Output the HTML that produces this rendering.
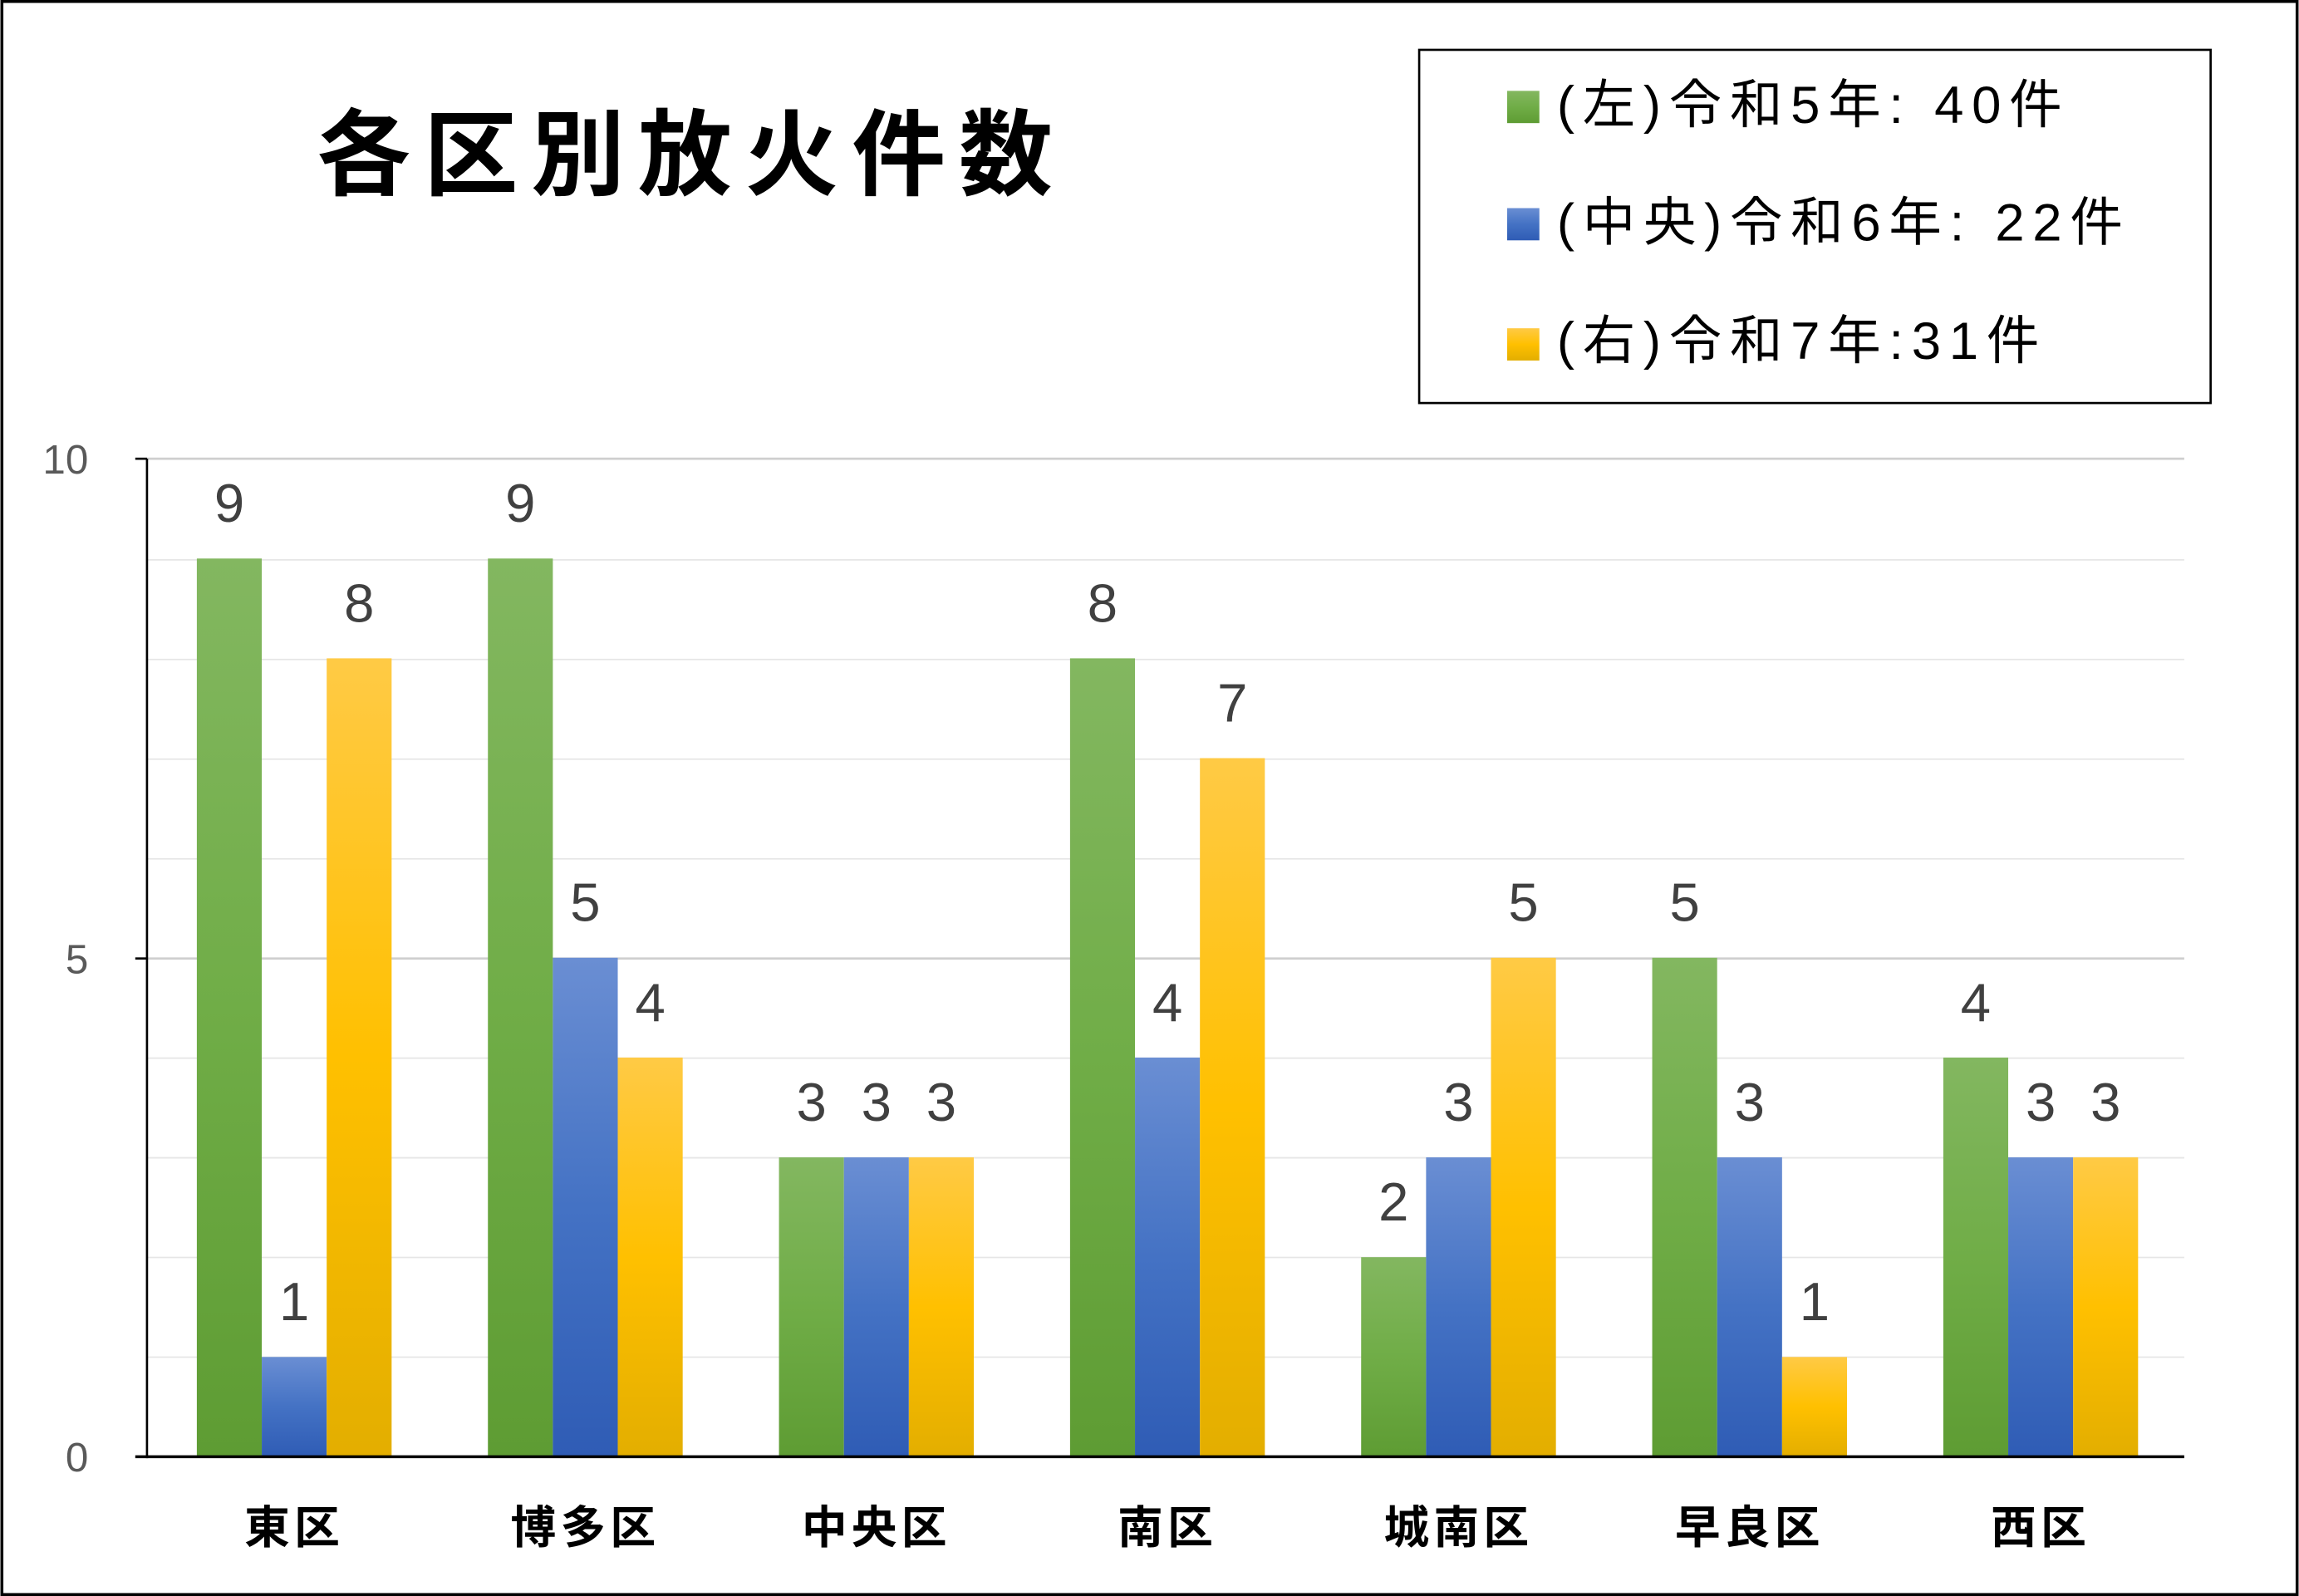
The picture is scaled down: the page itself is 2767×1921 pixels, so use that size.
<!DOCTYPE html>
<html><head><meta charset="utf-8"><style>
html,body{margin:0;padding:0;background:#fff}
svg{display:block}
text{font-family:"Liberation Sans","Noto Sans CJK JP",sans-serif}
</style></head><body>
<svg width="2767" height="1921" viewBox="0 0 1568 1089" xmlns="http://www.w3.org/2000/svg">
<defs>
<linearGradient id="g" x1="0" y1="0" x2="0" y2="1"><stop offset="0" stop-color="#83b760"/><stop offset="0.5" stop-color="#70ad47"/><stop offset="1" stop-color="#5e9c33"/></linearGradient>
<linearGradient id="b" x1="0" y1="0" x2="0" y2="1"><stop offset="0" stop-color="#6a8ed3"/><stop offset="0.5" stop-color="#4472c4"/><stop offset="1" stop-color="#2f5cb5"/></linearGradient>
<linearGradient id="y" x1="0" y1="0" x2="0" y2="1"><stop offset="0" stop-color="#ffca45"/><stop offset="0.5" stop-color="#ffc000"/><stop offset="1" stop-color="#e3ae00"/></linearGradient>
</defs>
<rect x="1" y="1" width="1566" height="1087" fill="#fff" stroke="#000" stroke-width="2"/>
<text x="216" y="128" font-size="64" font-weight="bold" fill="#000" letter-spacing="9">各区別放火件数</text>
<rect x="968" y="34" width="540" height="241" fill="#fff" stroke="#000" stroke-width="1.5"/>
<rect x="1028" y="62" width="22" height="22" fill="url(#g)"/>
<rect x="1028" y="142" width="22" height="22" fill="url(#b)"/>
<rect x="1028" y="224" width="22" height="22" fill="url(#y)"/>
<g font-size="36" fill="#000" letter-spacing="5.5">
<text x="1062" y="84">(左)令和5年: 40件</text>
<text x="1062" y="164">(中央)令和6年: 22件</text>
<text x="1062" y="245">(右)令和7年:31件</text>
</g>
<g stroke="#e6e6e6" stroke-width="1">
<line x1="100" x2="1490" y1="382" y2="382"/><line x1="100" x2="1490" y1="450" y2="450"/><line x1="100" x2="1490" y1="518" y2="518"/><line x1="100" x2="1490" y1="586" y2="586"/><line x1="100" x2="1490" y1="722" y2="722"/><line x1="100" x2="1490" y1="790" y2="790"/><line x1="100" x2="1490" y1="858" y2="858"/><line x1="100" x2="1490" y1="926" y2="926"/>
</g>
<g stroke="#cfcfcf" stroke-width="1.5">
<line x1="100" x2="1490" y1="313" y2="313"/><line x1="100" x2="1490" y1="654" y2="654"/>
</g>
<g id="bars"></g>
<g font-size="37" fill="#404040" text-anchor="middle" id="labs"></g>
<line x1="100" y1="313" x2="100" y2="995" stroke="#000" stroke-width="1.5"/>
<line x1="92" y1="994" x2="1490" y2="994" stroke="#000" stroke-width="2"/>
<g stroke="#000" stroke-width="1.5"><line x1="92" x2="100" y1="313" y2="313"/><line x1="92" x2="100" y1="654" y2="654"/></g>
<g font-size="28" fill="#595959" text-anchor="end">
<text x="60" y="323">10</text><text x="60" y="664">5</text><text x="60" y="1004">0</text>
</g>
<g font-size="31" font-weight="bold" fill="#000" text-anchor="middle" letter-spacing="3" id="cats"></g>
<script>
var d=[[9,1,8],[9,5,4],[3,3,3],[8,4,7],[2,3,5],[5,3,1],[4,3,3]];
var names=["東区","博多区","中央区","南区","城南区","早良区","西区"];
var fills=["url(#g)","url(#b)","url(#y)"];
var ns="http://www.w3.org/2000/svg",B=document.getElementById("bars"),L=document.getElementById("labs"),C=document.getElementById("cats");
var u=68.1,w=44.3;
for(var i=0;i<7;i++){var x0=134+i*198.6;
for(var k=0;k<3;k++){var v=d[i][k],x=x0+k*w,h=v*u;
var r=document.createElementNS(ns,"rect");r.setAttribute("x",x);r.setAttribute("y",994-h);r.setAttribute("width",w);r.setAttribute("height",h);r.setAttribute("fill",fills[k]);B.appendChild(r);
var t=document.createElementNS(ns,"text");t.setAttribute("x",x+w/2);t.setAttribute("y",994-h-25);t.textContent=v;L.appendChild(t);}
var c=document.createElementNS(ns,"text");c.setAttribute("x",x0+w*1.5);c.setAttribute("y",1053);c.textContent=names[i];C.appendChild(c);}
</script>
</svg>
</body></html>
